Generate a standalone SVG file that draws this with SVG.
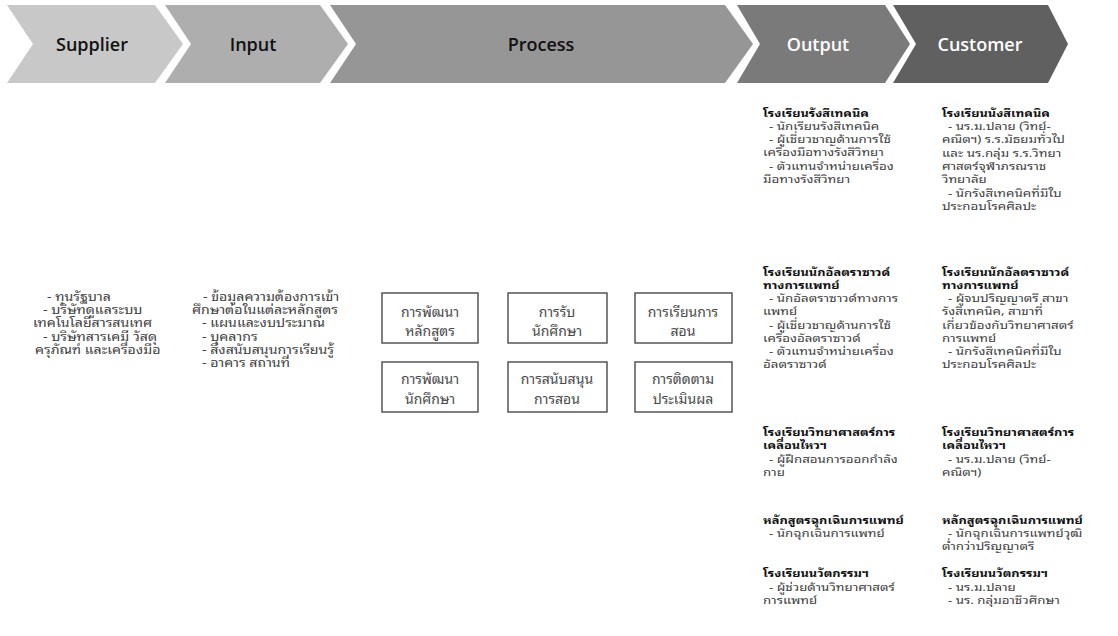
<svg xmlns="http://www.w3.org/2000/svg" width="1118" height="636" viewBox="0 0 1118 636">
<style>
.hd{font-family:"Open Sans","Noto Sans",sans-serif;font-size:18px;font-weight:600;text-anchor:middle}
.t{font-family:"Noto Sans Thai Looped","Noto Sans Thai","Noto Sans",sans-serif;font-size:11.1px;fill:#404040}
.s{font-size:11.8px}
.bx{font-family:"Noto Sans Thai Looped","Noto Sans Thai","Noto Sans",sans-serif;font-size:14px;fill:#4a4a4a;text-anchor:middle}
.b{font-size:10.7px;font-weight:bold;fill:#111}
.box{fill:#fff;stroke:#555;stroke-width:1.5}
</style>
<rect width="1118" height="636" fill="#fff"/>
<g id="header">
<g id="supplier"><polygon points="7,5 155,5 183,44 155,83 7,83 33,44" fill="#c8c8c8"/><text class="hd" x="92" y="51" fill="#111">Supplier</text></g>
<g id="input"><polygon points="165,5 320,5 348,44 320,83 165,83 191,44" fill="#aeaeae"/><text class="hd" x="253" y="51" fill="#111">Input</text></g>
<g id="process"><polygon points="330,5 725,5 753,44 725,83 330,83 356,44" fill="#969696"/><text class="hd" x="541" y="51" fill="#111">Process</text></g>
<g id="output"><polygon points="737,5 885,5 910,44 885,83 737,83 760,44" fill="#7a7a7a"/><text class="hd" x="818" y="51" fill="#fff">Output</text></g>
<g id="customer"><polygon points="893,5 1048,5 1068,44 1048,83 893,83 916,44" fill="#606060"/><text class="hd" x="980" y="51" fill="#fff">Customer</text></g>
</g>
<g id="supplier-list">
<text class="t s" transform="translate(33 0) scale(1.2 1)"><tspan x="11.7" y="301">- ทุนรัฐบาล</tspan><tspan x="8.3" y="314">- บริษัทดูแลระบบ</tspan><tspan x="0" y="327">เทคโนโลยีสารสนเทศ</tspan><tspan x="8.3" y="341">- บริษัทสารเคมี วัสดุ</tspan><tspan x="1.7" y="354">ครุภัณฑ์ และเครื่องมือ</tspan></text>
</g>
<g id="input-list">
<text class="t s" transform="translate(192 0) scale(1.2 1)"><tspan x="9.2" y="301">- ข้อมูลความต้องการเข้า</tspan><tspan x="0" y="314">ศึกษาต่อในแต่ละหลักสูตร</tspan><tspan x="8.3" y="327">- แผนและงบประมาณ</tspan><tspan x="8.3" y="341">- บุคลากร</tspan><tspan x="8.3" y="354">- สิ่งสนับสนุนการเรียนรู้</tspan><tspan x="8.3" y="367">- อาคาร สถานที่</tspan></text>
</g>
<g id="p1"><rect class="box" x="382" y="293" width="96" height="50"/><text class="bx"><tspan x="430" y="317">การพัฒนา</tspan><tspan x="430" y="336">หลักสูตร</tspan></text></g>
<g id="p2"><rect class="box" x="508" y="293" width="99" height="50"/><text class="bx"><tspan x="557" y="317">การรับ</tspan><tspan x="557" y="336">นักศึกษา</tspan></text></g>
<g id="p3"><rect class="box" x="635" y="293" width="97" height="50"/><text class="bx"><tspan x="683" y="317">การเรียนการ</tspan><tspan x="683" y="336">สอน</tspan></text></g>
<g id="p4"><rect class="box" x="382" y="362" width="96" height="50"/><text class="bx"><tspan x="430" y="384">การพัฒนา</tspan><tspan x="430" y="404">นักศึกษา</tspan></text></g>
<g id="p5"><rect class="box" x="508" y="362" width="99" height="50"/><text class="bx"><tspan x="557" y="384">การสนับสนุน</tspan><tspan x="557" y="404">การสอน</tspan></text></g>
<g id="p6"><rect class="box" x="635" y="362" width="97" height="50"/><text class="bx"><tspan x="683" y="384">การติดตาม</tspan><tspan x="683" y="404">ประเมินผล</tspan></text></g>
<g id="connectors"></g>
<g id="output-list">
<text class="t" transform="translate(763 0) scale(1.2 1)"><tspan class="b" x="0" y="117">โรงเรียนรังสีเทคนิค</tspan><tspan x="5" y="130">- นักเรียนรังสีเทคนิค</tspan><tspan x="5" y="143">- ผู้เชี่ยวชาญด้านการใช้</tspan><tspan x="0" y="156">เครื่องมือทางรังสีวิทยา</tspan><tspan x="5" y="170">- ตัวแทนจำหน่ายเครื่อง</tspan><tspan x="0" y="183">มือทางรังสีวิทยา</tspan></text>
<text class="t" transform="translate(763 0) scale(1.2 1)"><tspan class="b" x="0" y="276">โรงเรียนนักอัลตราซาวด์</tspan><tspan class="b" x="0" y="289">ทางการแพทย์</tspan><tspan x="5" y="302">- นักอัลตราซาวด์ทางการ</tspan><tspan x="0" y="315">แพทย์</tspan><tspan x="5" y="329">- ผู้เชี่ยวชาญด้านการใช้</tspan><tspan x="0" y="342">เครื่องอัลตราซาวด์</tspan><tspan x="5" y="355">- ตัวแทนจำหน่ายเครื่อง</tspan><tspan x="0" y="368">อัลตราซาวด์</tspan></text>
<text class="t" transform="translate(763 0) scale(1.2 1)"><tspan class="b" x="0" y="436">โรงเรียนวิทยาศาสตร์การ</tspan><tspan class="b" x="0" y="449">เคลื่อนไหวฯ</tspan><tspan x="5" y="463">- ผู้ฝึกสอนการออกกำลัง</tspan><tspan x="0" y="476">กาย</tspan></text>
<text class="t" transform="translate(763 0) scale(1.2 1)"><tspan class="b" x="0" y="524">หลักสูตรฉุกเฉินการแพทย์</tspan><tspan x="5" y="537">- นักฉุกเฉินการแพทย์</tspan></text>
<text class="t" transform="translate(763 0) scale(1.2 1)"><tspan class="b" x="0" y="577">โรงเรียนนวัตกรรมฯ</tspan><tspan x="5" y="591">- ผู้ช่วยด้านวิทยาศาสตร์</tspan><tspan x="0" y="604">การแพทย์</tspan></text>
</g>
<g id="customer-list">
<text class="t" transform="translate(942 0) scale(1.2 1)"><tspan class="b" x="0" y="117">โรงเรียนนังสีเทคนิค</tspan><tspan x="5" y="130">- นร.ม.ปลาย (วิทย์-</tspan><tspan x="0" y="143">คณิตฯ) ร.ร.มัธยมทั่วไป</tspan><tspan x="0" y="157">และ นร.กลุ่ม ร.ร.วิทยา</tspan><tspan x="0" y="170">ศาสตร์จุฬาภรณราช</tspan><tspan x="0" y="183">วิทยาลัย</tspan><tspan x="5" y="197">- นักรังสีเทคนิคที่มีใบ</tspan><tspan x="0" y="210">ประกอบโรคศิลปะ</tspan></text>
<text class="t" transform="translate(942 0) scale(1.2 1)"><tspan class="b" x="0" y="276">โรงเรียนนักอัลตราซาวด์</tspan><tspan class="b" x="0" y="289">ทางการแพทย์</tspan><tspan x="5" y="302">- ผู้จบปริญญาตรี สาขา</tspan><tspan x="0" y="315">รังสีเทคนิค, สาขาที่</tspan><tspan x="0" y="329">เกี่ยวข้องกับวิทยาศาสตร์</tspan><tspan x="0" y="342">การแพทย์</tspan><tspan x="5" y="355">- นักรังสีเทคนิคที่มีใบ</tspan><tspan x="0" y="368">ประกอบโรคศิลปะ</tspan></text>
<text class="t" transform="translate(942 0) scale(1.2 1)"><tspan class="b" x="0" y="436">โรงเรียนวิทยาศาสตร์การ</tspan><tspan class="b" x="0" y="449">เคลื่อนไหวฯ</tspan><tspan x="5" y="463">- นร.ม.ปลาย (วิทย์-</tspan><tspan x="0" y="476">คณิตฯ)</tspan></text>
<text class="t" transform="translate(942 0) scale(1.2 1)"><tspan class="b" x="0" y="524">หลักสูตรฉุกเฉินการแพทย์</tspan><tspan x="5" y="537">- นักฉุกเฉินการแพทย์วุฒิ</tspan><tspan x="0" y="550">ต่ำกว่าปริญญาตรี</tspan></text>
<text class="t" transform="translate(942 0) scale(1.2 1)"><tspan class="b" x="0" y="577">โรงเรียนนวัตกรรมฯ</tspan><tspan x="5" y="591">- นร.ม.ปลาย</tspan><tspan x="5" y="604">- นร. กลุ่มอาชีวศึกษา</tspan></text>
</g>
</svg>
